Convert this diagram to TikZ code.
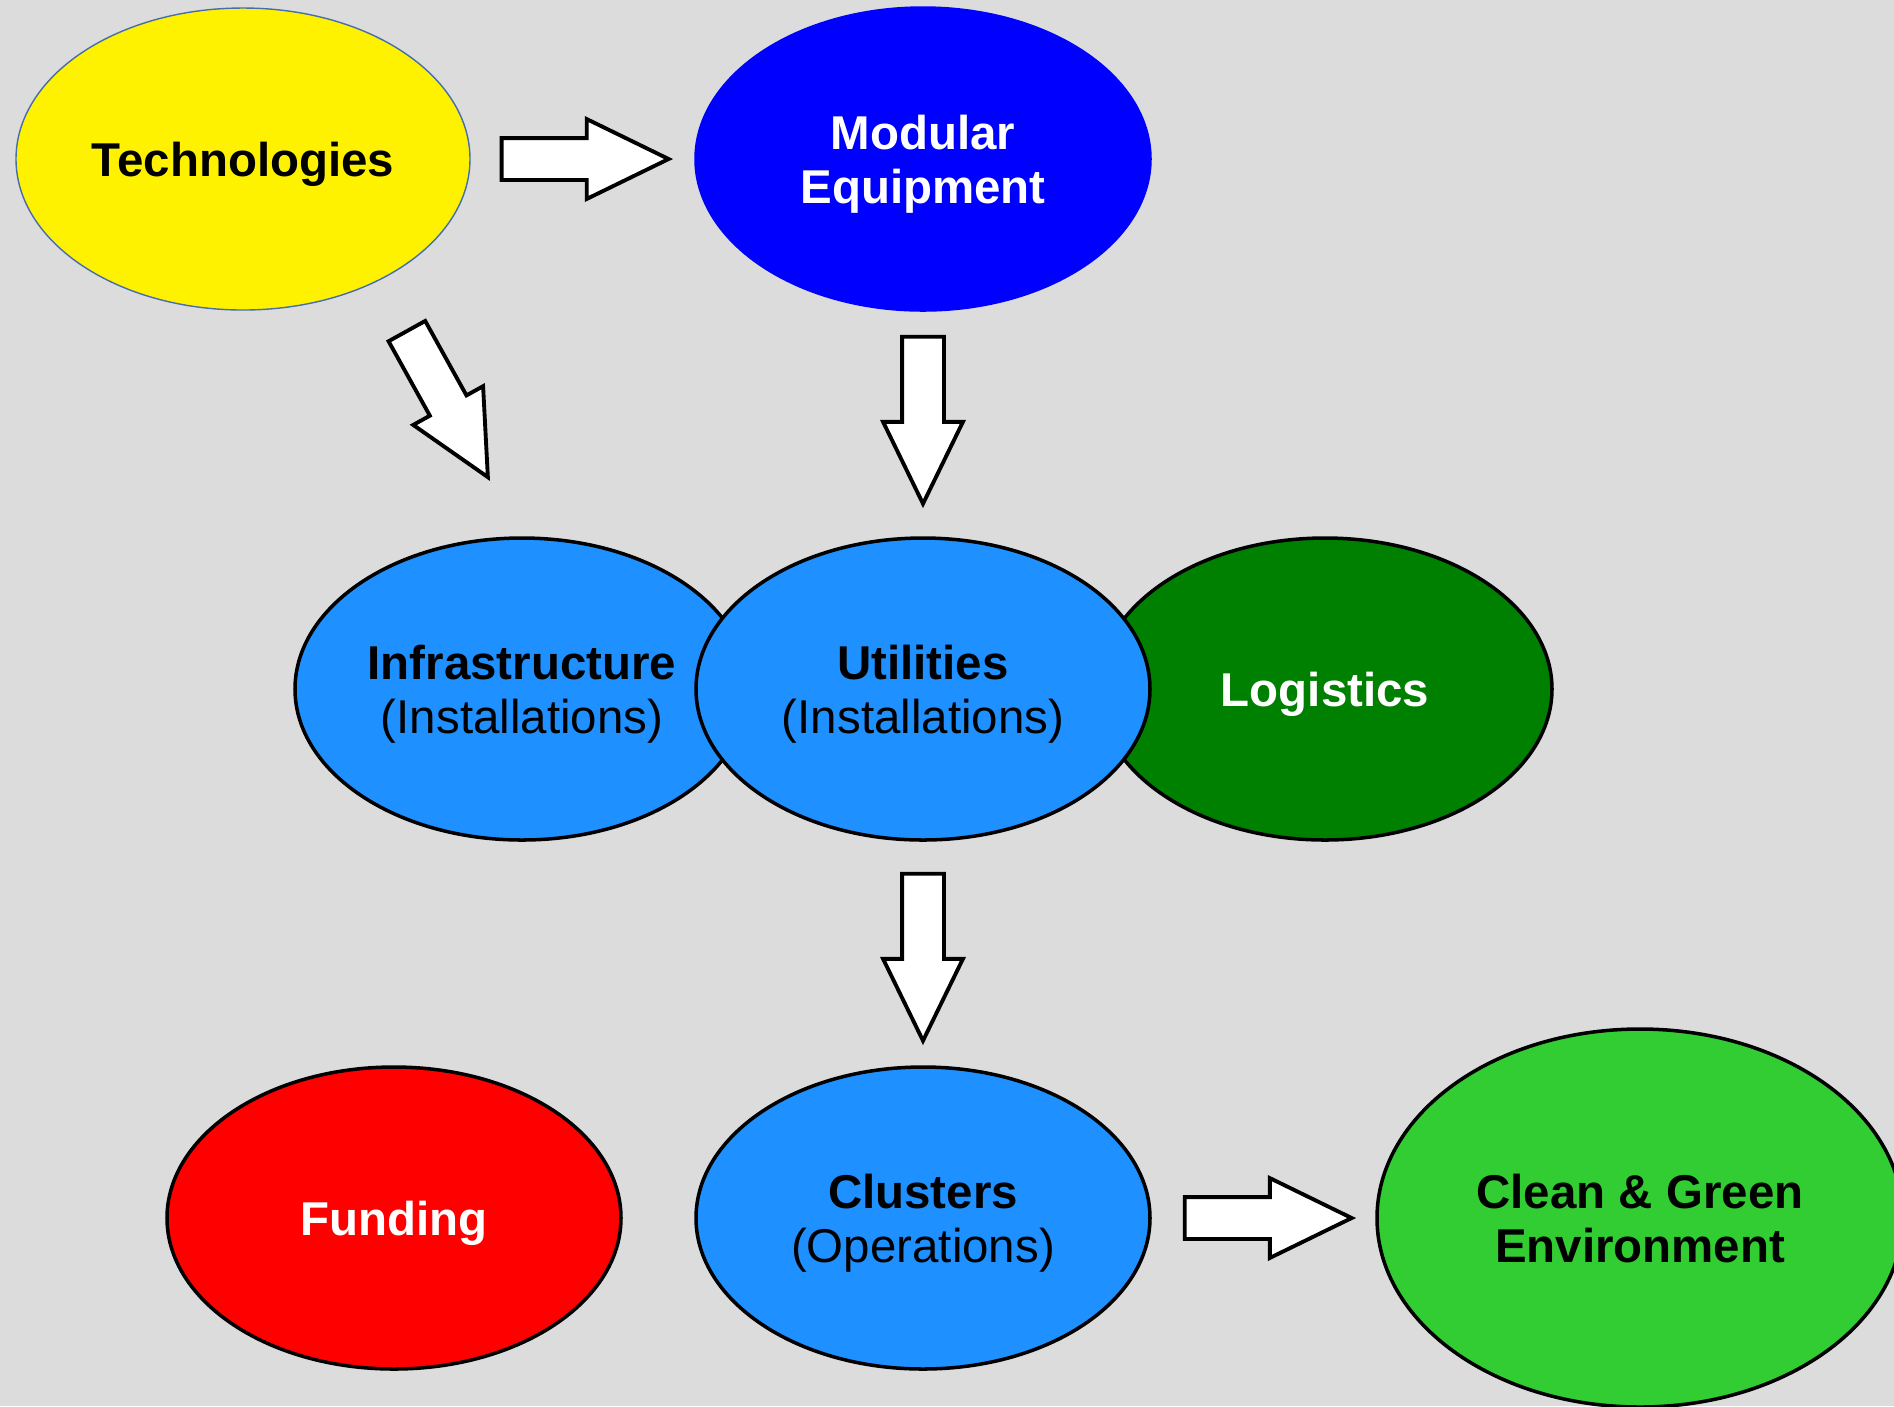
\documentclass[tikz,border=0pt]{standalone}
\usepackage{fontspec}
\setmainfont{Liberation Sans}
\usepackage{xcolor}
\usetikzlibrary{shapes.geometric,shapes.arrows,calc}

\definecolor{bggray}{RGB}{220,220,220}
\definecolor{dodger}{RGB}{30,144,255}
\definecolor{darkgrn}{RGB}{0,128,0}
\definecolor{limegrn}{RGB}{50,205,50}
\definecolor{edgeblue}{RGB}{70,110,170}

\begin{document}
\begin{tikzpicture}[x=0.1mm,y=-0.1mm,
    blob/.style={ellipse,draw=black,line width=1pt,inner sep=0pt,
        minimum width=4.54cm,minimum height=3.02cm,align=center,text depth=0pt,
        font=\fontsize{13.5}{15.3}\selectfont},
    bigarrow/.style={single arrow,draw=black,fill=white,line width=1.1pt,
        inner sep=0pt,inner ysep=0.19cm,minimum height=1.67cm,
        single arrow head extend=0.19cm,single arrow tip angle=52}]
    \fill[bggray] (0,0) rectangle (1894,1406);
    \useasboundingbox (0,0) rectangle (1894,1406);
    % top row
    \node[blob,fill=yellow,draw=edgeblue,line width=0.4pt] (tech) at (243,159) {\textbf{Technologies}};
    \node[blob,fill=blue,draw=blue,text=white] (modeq) at (923,159) {\textbf{Modular}\\\textbf{Equipment}};
    % middle row
    \node[blob,fill=dodger] (infra) at (522,689) {\textbf{Infrastructure}\\(Installations)};
    \node[blob,fill=darkgrn,text=white] (logi) at (1325,689) {\textbf{Logistics}};
    \node[blob,fill=dodger] (util) at (923,689) {\textbf{Utilities}\\(Installations)};
    % bottom row
    \node[blob,fill=red,text=white] (fund) at (394,1218) {\textbf{Funding}};
    \node[blob,fill=dodger] (clus) at (923,1218) {\textbf{Clusters}\\(Operations)};
    \node[blob,fill=limegrn,minimum width=5.26cm,minimum height=3.78cm] (clean) at (1640,1218) {\textbf{Clean \& Green}\\\textbf{Environment}};
    % block arrows
    \node[bigarrow,anchor=tail] (a1) at ($(tech.east)+(29,0)$) {};
    \node[bigarrow,rotate=-61,anchor=tip] (a2) at (490,481) {};
    \node[bigarrow,rotate=-90,anchor=tail] (a3) at ($(modeq.south)+(0,23)$) {};
    \node[bigarrow,rotate=-90,anchor=tail] (a4) at ($(util.south)+(0,30)$) {};
    \node[bigarrow,anchor=tail] (a5) at ($(clus.east)+(31,0)$) {};
\end{tikzpicture}
\end{document}
